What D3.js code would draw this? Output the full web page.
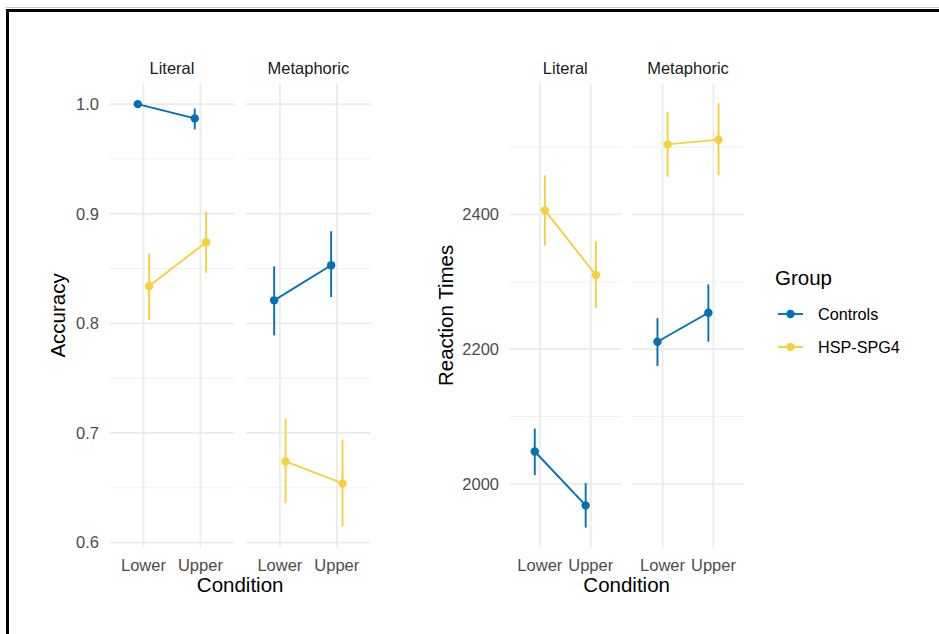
<!DOCTYPE html>
<html>
<head>
<meta charset="utf-8">
<script src="https://cdn.jsdelivr.net/npm/d3@7"></script>
<style>
  body { margin: 0; background: #fff; }
  text { font-family: "Liberation Sans", Arial, sans-serif; }
</style>
</head>
<body>
<div id="chart"></div>
<script>
// facets and x categories
const contexts = ["Literal", "Metaphoric"];
const conditions = ["Lower", "Upper"];
const groups = ["Controls", "HSP-SPG4"];

// values in order: Literal Lower, Literal Upper, Metaphoric Lower, Metaphoric Upper
const accControlsMean = [1.000, 0.987, 0.821, 0.853];
const accControlsLo   = [1.000, 0.977, 0.789, 0.824];
const accControlsHi   = [1.000, 0.996, 0.852, 0.884];
const accHspMean      = [0.834, 0.874, 0.674, 0.654];
const accHspLo        = [0.803, 0.846, 0.636, 0.615];
const accHspHi        = [0.864, 0.902, 0.713, 0.694];

const rtControlsMean = [2048, 1968, 2211, 2254];
const rtControlsLo   = [2013, 1935, 2175, 2211];
const rtControlsHi   = [2082, 2001, 2246, 2296];
const rtHspMean      = [2406, 2310, 2504, 2511];
const rtHspLo        = [2354, 2261, 2456, 2458];
const rtHspHi        = [2458, 2360, 2552, 2565];

const accMajor = [0.6, 0.7, 0.8, 0.9, 1.0];
const accMinor = [0.65, 0.75, 0.85, 0.95];
const rtMajor = [2000, 2200, 2400];
const rtMinor = [2100, 2300, 2500];

const colors = {"Controls": "#0072B2", "HSP-SPG4": "#F5D13F"};

const width = 939, height = 634;
const svg = d3.select("#chart").append("svg")
  .attr("width", width)
  .attr("height", height);

svg.append("rect").attr("width", width).attr("height", height).attr("fill", "#fff");

// frame round the figure (only top and left visible)
svg.append("line").attr("x1", 6).attr("x2", width).attr("y1", 7.5).attr("y2", 7.5)
  .attr("stroke", "#c8c8c8").attr("stroke-width", 1);
svg.append("rect").attr("x", 7.5).attr("y", 10.5)
  .attr("width", width + 20).attr("height", height + 20)
  .attr("fill", "none").attr("stroke", "#000").attr("stroke-width", 3);

function rows(mean, lo, hi, group) {
  const out = [];
  contexts.forEach((ctx, i) => {
    conditions.forEach((cond, j) => {
      const k = i * 2 + j;
      out.push({context: ctx, condition: cond, group: group, mean: mean[k], lo: lo[k], hi: hi[k]});
    });
  });
  return out;
}

function drawPlot(opts) {
  const g = svg.append("g");
  const y = d3.scaleLinear().domain(opts.yDomain).range([547.5, 83.3]);

  const data = rows(opts.c[0], opts.c[1], opts.c[2], "Controls")
    .concat(rows(opts.h[0], opts.h[1], opts.h[2], "HSP-SPG4"));

  contexts.forEach((ctx, i) => {
    const x0 = opts.panels[i];
    const x = d3.scalePoint().domain(conditions).range([x0, x0 + opts.panelW]).padding(0.6);
    const dodge = x.step() * 0.1;
    const p = g.append("g");

    // grid
    p.selectAll(".minor").data(opts.minor).join("line")
      .attr("x1", x0).attr("x2", x0 + opts.panelW)
      .attr("y1", d => y(d)).attr("y2", d => y(d))
      .attr("stroke", "#f0f0f0").attr("stroke-width", 1);
    p.selectAll(".major").data(opts.major).join("line")
      .attr("x1", x0).attr("x2", x0 + opts.panelW)
      .attr("y1", d => y(d)).attr("y2", d => y(d))
      .attr("stroke", "#ebebeb").attr("stroke-width", 1.8);
    p.selectAll(".vgrid").data(conditions).join("line")
      .attr("x1", d => x(d)).attr("x2", d => x(d))
      .attr("y1", y.range()[0]).attr("y2", y.range()[1])
      .attr("stroke", "#ebebeb").attr("stroke-width", 1.8);

    // strip label
    p.append("text")
      .attr("x", x0 + opts.panelW / 2).attr("y", 74)
      .attr("text-anchor", "middle")
      .attr("font-size", 16.5).attr("fill", "#1a1a1a")
      .text(ctx);

    // x tick labels
    p.selectAll(".xlab").data(conditions).join("text")
      .attr("x", d => x(d)).attr("y", 571)
      .attr("text-anchor", "middle")
      .attr("font-size", 16.5).attr("fill", "#4d4d4d")
      .text(d => d);

    const xpos = d => x(d.condition) + (d.group === "Controls" ? -dodge : dodge);

    groups.forEach(grp => {
      const sub = data.filter(d => d.context === ctx && d.group === grp);
      p.append("path")
        .datum(sub)
        .attr("fill", "none")
        .attr("stroke", colors[grp])
        .attr("stroke-width", 1.9)
        .attr("d", d3.line().x(xpos).y(d => y(d.mean)));
      p.selectAll(null).data(sub).join("line")
        .attr("x1", xpos).attr("x2", xpos)
        .attr("y1", d => y(d.lo)).attr("y2", d => y(d.hi))
        .attr("stroke", colors[grp]).attr("stroke-width", 1.9);
      p.selectAll(null).data(sub).join("circle")
        .attr("cx", xpos).attr("cy", d => y(d.mean))
        .attr("r", 4.2)
        .attr("fill", colors[grp]);
    });
  });

  // y tick labels
  g.selectAll(".ylab").data(opts.major).join("text")
    .attr("x", opts.tickX).attr("y", d => y(d))
    .attr("dy", "0.35em")
    .attr("text-anchor", "end")
    .attr("font-size", 16.5).attr("fill", "#4d4d4d")
    .text(opts.fmt);

  // axis titles
  g.append("text")
    .attr("transform", `translate(${opts.titleX},${(547.5 + 83.3) / 2}) rotate(-90)`)
    .attr("text-anchor", "middle")
    .attr("font-size", 20.5).attr("fill", "#000")
    .text(opts.yTitle);
  const mid = (opts.panels[0] + opts.panels[1] + opts.panelW) / 2;
  g.append("text")
    .attr("x", mid).attr("y", 592)
    .attr("text-anchor", "middle")
    .attr("font-size", 20.5).attr("fill", "#000")
    .text("Condition");
}

drawPlot({
  yDomain: [0.5955, 1.019],
  panels: [109.3, 245.7], panelW: 125.3,
  major: accMajor, minor: accMinor,
  c: [accControlsMean, accControlsLo, accControlsHi],
  h: [accHspMean, accHspLo, accHspHi],
  tickX: 99, fmt: d3.format(".1f"),
  titleX: 64.5, yTitle: "Accuracy"
});

drawPlot({
  yDomain: [1905.5, 2594.6],
  panels: [509.3, 632], panelW: 112,
  major: rtMajor, minor: rtMinor,
  c: [rtControlsMean, rtControlsLo, rtControlsHi],
  h: [rtHspMean, rtHspLo, rtHspHi],
  tickX: 499, fmt: d3.format("d"),
  titleX: 453, yTitle: "Reaction Times"
});

// legend
const leg = svg.append("g");
leg.append("text").attr("x", 775).attr("y", 285)
  .attr("font-size", 20.5).attr("fill", "#000").text("Group");
groups.forEach((grp, i) => {
  const ly = 314 + i * 33;
  leg.append("line").attr("x1", 778).attr("x2", 803).attr("y1", ly).attr("y2", ly)
    .attr("stroke", colors[grp]).attr("stroke-width", 1.9);
  leg.append("circle").attr("cx", 790.5).attr("cy", ly).attr("r", 4.2).attr("fill", colors[grp]);
  leg.append("text").attr("x", 818).attr("y", ly).attr("dy", "0.35em")
    .attr("font-size", 16.2).attr("fill", "#000").text(grp);
});
</script>
</body>
</html>
